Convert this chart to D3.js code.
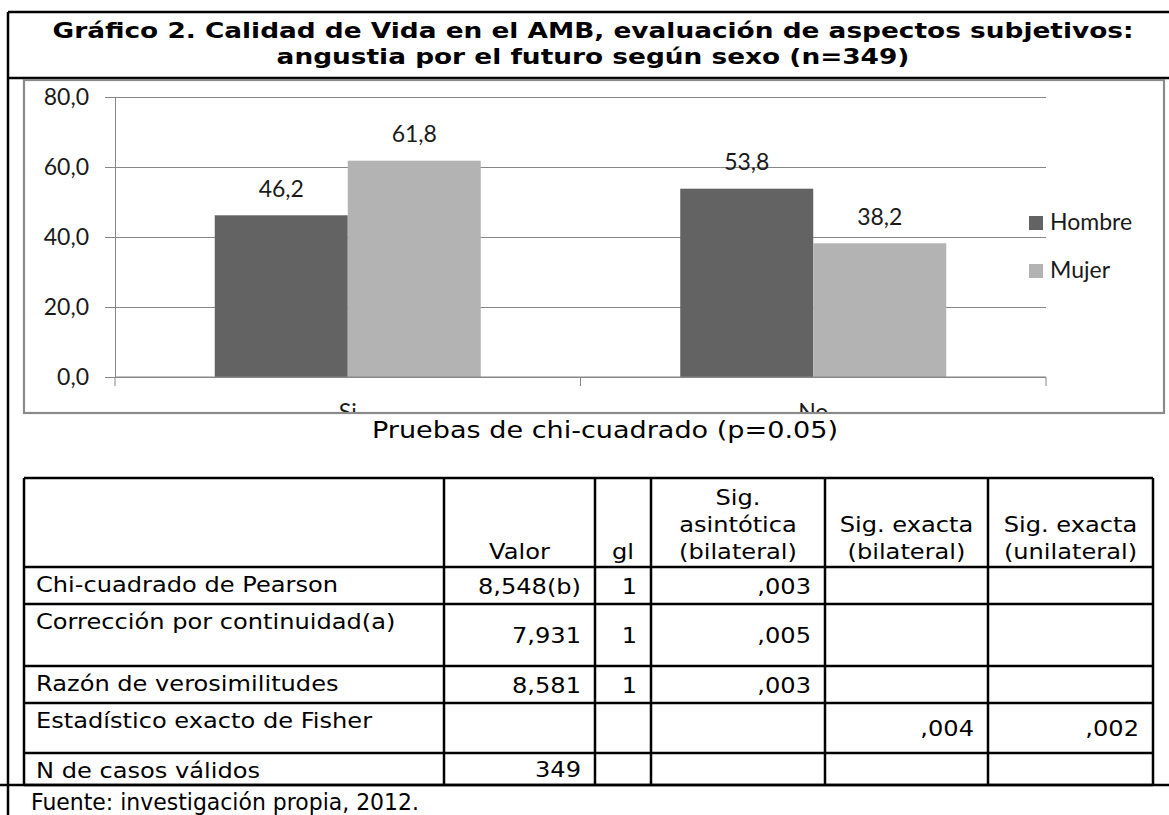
<!DOCTYPE html>
<html>
<head>
<meta charset="utf-8">
<script src="https://cdn.jsdelivr.net/npm/d3@7"></script>
<style>
body { margin: 0; background: #fff; }
svg { display: block; }
</style>
</head>
<body>
<div id="chart"></div>
<script>
// chart values
var categories = ["Si", "No"];
var series = ["Hombre", "Mujer"];
var hombre = [46.2, 53.8];
var mujer = [61.8, 38.2];
var yTicks = [0, 20, 40, 60, 80];
var seriesColors = ["#636363", "#b3b3b3"];

// texts of the document
var titleLines = ["Gráfico 2. Calidad de Vida en el AMB, evaluación de aspectos subjetivos:",
                  "angustia por el futuro según sexo (n=349)"];
var tableTitle = "Pruebas de chi-cuadrado (p=0.05)";
var headers = [[], ["Valor"], ["gl"], ["Sig.", "asintótica", "(bilateral)"],
               ["Sig. exacta", "(bilateral)"], ["Sig. exacta", "(unilateral)"]];
var rowLabels = ["Chi-cuadrado de Pearson", "Corrección por continuidad(a)", "Razón de verosimilitudes",
                 "Estadístico exacto de Fisher", "N de casos válidos"];
var valor = ["8,548(b)", "7,931", "8,581", "", "349"];
var gl = ["1", "1", "1", "", ""];
var sigAsint = [",003", ",005", ",003", "", ""];
var sigExBil = ["", "", "", ",004", ""];
var sigExUni = ["", "", "", ",002", ""];
var source = "Fuente: investigación propia, 2012.";

var width = 1169, height = 815;
var docFont = "'DejaVu Sans', Verdana, sans-serif";
var chartFont = "Lato, Calibri, sans-serif";

var svg = d3.select("#chart").append("svg")
    .attr("width", width)
    .attr("height", height);

// stretch a text so it spans a given width (the scan is wider than the fonts)
function stretch(sel, k) {
  sel.each(function() {
    var w = this.getComputedTextLength();
    d3.select(this).attr("textLength", w * k).attr("lengthAdjust", "spacingAndGlyphs");
  });
}

// ---- frame of the document box
var frame = svg.append("g").attr("stroke", "#000").attr("stroke-width", 2.5);
frame.append("line").attr("x1", 8).attr("x2", width).attr("y1", 12).attr("y2", 12);
frame.append("line").attr("x1", 8).attr("x2", width).attr("y1", 78).attr("y2", 78);
frame.append("line").attr("x1", 8).attr("x2", 8).attr("y1", 12).attr("y2", height);
frame.append("line").attr("x1", 0).attr("x2", width).attr("y1", 785).attr("y2", 785);

// ---- title
var title = svg.append("g")
    .attr("font-family", docFont)
    .attr("font-weight", "bold")
    .attr("font-size", 22)
    .attr("text-anchor", "middle");
var t1 = title.append("text").attr("x", 593).attr("y", 38).text(titleLines[0]);
var titleK = 1081 / t1.node().getComputedTextLength();
title.append("text").attr("x", 593).attr("y", 64).text(titleLines[1]);
stretch(title.selectAll("text"), titleK);

// ---- chart
var plot = {left: 115, right: 1046, top: 97, bottom: 377};

svg.append("defs").append("clipPath").attr("id", "chartClip")
  .append("rect").attr("x", 25).attr("y", 81).attr("width", 1138).attr("height", 331);

svg.append("rect")
    .attr("x", 24).attr("y", 80).attr("width", 1140).attr("height", 333)
    .attr("fill", "#fff").attr("stroke", "#8a8a8a").attr("stroke-width", 2.2);

var x = d3.scaleBand().domain(categories).range([plot.left, plot.right]).padding(0);
var xs = d3.scaleBand().domain(series).range([0, x.bandwidth()])
    .paddingInner(0).paddingOuter(0.75);
var y = d3.scaleLinear().domain([0, 80]).range([plot.bottom, plot.top]);

var fmt = function(d) { return d.toFixed(1).replace(".", ","); };

// gridlines
svg.append("g")
    .attr("transform", "translate(" + plot.left + ",0)")
    .call(d3.axisLeft(y).tickValues(yTicks).tickSize(-(plot.right - plot.left)).tickFormat(""))
    .call(function(g) {
      g.select(".domain").remove();
      g.selectAll("line").attr("stroke", "#878787");
    });

// y axis with its ticks and labels
svg.append("g")
    .attr("transform", "translate(" + plot.left + ",0)")
    .call(d3.axisLeft(y).tickValues(yTicks).tickSize(10).tickSizeOuter(0).tickPadding(16).tickFormat(fmt))
    .call(function(g) {
      g.select(".domain").attr("stroke", "#878787");
      g.selectAll("line").attr("stroke", "#878787");
      g.selectAll("text").attr("font-family", chartFont).attr("font-size", 23).attr("fill", "#1a1a1a");
    });

// bars
var data = categories.map(function(c, i) {
  return {cat: c, values: [{s: series[0], v: hombre[i]}, {s: series[1], v: mujer[i]}]};
});

var groups = svg.selectAll(".cat")
    .data(data)
    .enter().append("g")
    .attr("transform", function(d) { return "translate(" + x(d.cat) + ",0)"; });

groups.selectAll("rect")
    .data(function(d) { return d.values; })
    .enter().append("rect")
    .attr("x", function(d) { return xs(d.s); })
    .attr("y", function(d) { return y(d.v); })
    .attr("width", xs.bandwidth())
    .attr("height", function(d) { return y(0) - y(d.v); })
    .attr("fill", function(d, i) { return seriesColors[i]; });

groups.selectAll("text")
    .data(function(d) { return d.values; })
    .enter().append("text")
    .attr("x", function(d) { return xs(d.s) + xs.bandwidth() / 2; })
    .attr("y", function(d) { return y(d.v) - 18.5; })
    .attr("text-anchor", "middle")
    .attr("font-family", chartFont)
    .attr("font-size", 23)
    .attr("fill", "#1a1a1a")
    .text(function(d) { return fmt(d.v); });

// x axis: baseline, boundary ticks, clipped category labels
var xAxis = svg.append("g").attr("stroke", "#878787");
xAxis.append("line")
    .attr("x1", plot.left).attr("x2", plot.right)
    .attr("y1", y(0)).attr("y2", y(0));
var edges = categories.map(function(c) { return x(c); }).concat([plot.right]);
xAxis.selectAll(".tick")
    .data(edges)
    .enter().append("line")
    .attr("x1", function(d) { return d; }).attr("x2", function(d) { return d; })
    .attr("y1", y(0)).attr("y2", y(0) + 9);

svg.append("g")
    .attr("clip-path", "url(#chartClip)")
    .selectAll("text")
    .data(categories)
    .enter().append("text")
    .attr("x", function(d) { return x(d) + x.bandwidth() / 2; })
    .attr("y", 420)
    .attr("text-anchor", "middle")
    .attr("font-family", chartFont)
    .attr("font-size", 23)
    .attr("fill", "#1a1a1a")
    .text(function(d) { return d; });

// legend
var legend = svg.append("g").selectAll("g")
    .data(series)
    .enter().append("g")
    .attr("transform", function(d, i) { return "translate(1029," + (216 + i * 48) + ")"; });
legend.append("rect")
    .attr("width", 14).attr("height", 14)
    .attr("fill", function(d, i) { return seriesColors[i]; });
legend.append("text")
    .attr("x", 21).attr("y", 14)
    .attr("font-family", chartFont)
    .attr("font-size", 23)
    .attr("fill", "#1a1a1a")
    .text(function(d) { return d; });

// ---- chi-square table
var colEdges = [24, 444, 595, 651, 825, 988, 1153];
var rowEdges = [478, 567, 604, 666, 703, 753, 785];

var tbl = svg.append("g")
    .attr("font-family", docFont)
    .attr("font-size", 21)
    .attr("fill", "#000");

var tt = tbl.append("text").attr("x", 372).attr("y", 438).attr("font-size", 23).text(tableTitle);
stretch(tt, 466 / tt.node().getComputedTextLength());

var grid = tbl.append("g").attr("stroke", "#000").attr("stroke-width", 2.5);
grid.selectAll(".v").data(colEdges).enter().append("line")
    .attr("x1", function(d) { return d; }).attr("x2", function(d) { return d; })
    .attr("y1", rowEdges[0]).attr("y2", rowEdges[rowEdges.length - 1]);
grid.selectAll(".h").data(rowEdges).enter().append("line")
    .attr("x1", colEdges[0]).attr("x2", colEdges[colEdges.length - 1])
    .attr("y1", function(d) { return d; }).attr("y2", function(d) { return d; });

var cells = tbl.append("g");

// headers, bottom aligned and centred in their column
headers.forEach(function(lines, c) {
  var cx = (colEdges[c] + colEdges[c + 1]) / 2;
  lines.forEach(function(line, i) {
    cells.append("text")
      .attr("x", cx)
      .attr("y", 559 - 27 * (lines.length - 1 - i))
      .attr("text-anchor", "middle")
      .text(line);
  });
});

// row labels, top aligned
rowLabels.forEach(function(label, r) {
  cells.append("text")
    .attr("x", colEdges[0] + 12)
    .attr("y", rowEdges[r + 1] + 25)
    .text(label);
});

// values, right aligned and vertically centred
[valor, gl, sigAsint, sigExBil, sigExUni].forEach(function(col, c) {
  col.forEach(function(v, r) {
    if (!v) return;
    cells.append("text")
      .attr("x", colEdges[c + 2] - 14)
      .attr("y", (rowEdges[r + 1] + rowEdges[r + 2]) / 2 + 8)
      .attr("text-anchor", "end")
      .text(v);
  });
});

var probe = cells.selectAll("text").filter(function() { return d3.select(this).text() === rowLabels[0]; });
var tableK = 302 / probe.node().getComputedTextLength();
stretch(cells.selectAll("text"), tableK);

// source line
var src = tbl.append("text").attr("x", 31).attr("y", 810).attr("font-size", 23).text(source);
stretch(src, 388 / src.node().getComputedTextLength());
</script>
</body>
</html>
